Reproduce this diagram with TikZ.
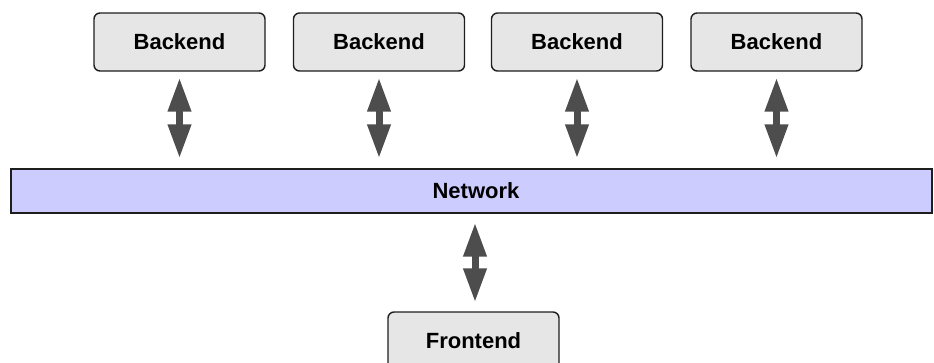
\documentclass[tikz,border=0pt]{standalone}
\usepackage{fontspec}
\setmainfont{Liberation Sans}
\usetikzlibrary{arrows.meta}
\definecolor{boxfill}{HTML}{E6E6E6}
\definecolor{boxline}{HTML}{1E1E1E}
\definecolor{netfill}{HTML}{CCCCFF}
\definecolor{arrowgrey}{HTML}{4D4D4D}
\tikzset{
  labelfont/.style={font=\fontsize{22}{26}\selectfont\bfseries},
  compbox/.style={draw=boxline, line width=1.4pt, fill=boxfill, rounded corners=6pt,
    minimum width=171pt, minimum height=58pt, inner sep=0pt, labelfont},
  netbar/.style={draw=boxline, line width=1.4pt, fill=netfill,
    minimum width=921pt, minimum height=44pt, inner sep=0pt},
  biarrow/.style={draw=arrowgrey, line width=7pt,
    {Triangle[length=34pt,width=22pt]}-{Triangle[length=34pt,width=22pt]}}
}
\begin{document}
\begin{tikzpicture}[x=1pt,y=-1pt]
\useasboundingbox (0,0) rectangle (934,362);
\clip (0,0) rectangle (934,362);
\node[compbox] (b1) at (179.5,42) {Backend};
\node[compbox] (b2) at (379,42) {Backend};
\node[compbox] (b3) at (577,42) {Backend};
\node[compbox] (b4) at (776.5,42) {Backend};
\node[netbar] (net) at (471.5,191) {};
\node[labelfont] (netlabel) at (476,191) {Network};
\node[compbox] (front) at (473.5,341) {Frontend};
\foreach \b in {b1,b2,b3,b4}{
  \draw[biarrow, shorten <=6pt, shorten >=10pt] (\b.south) -- (\b.south |- net.north);
}
\path (front.north -| 475,0) coordinate (fa);
\draw[biarrow, shorten <=9pt, shorten >=9pt] (net.south -| fa) -- (fa);
\end{tikzpicture}
\end{document}
